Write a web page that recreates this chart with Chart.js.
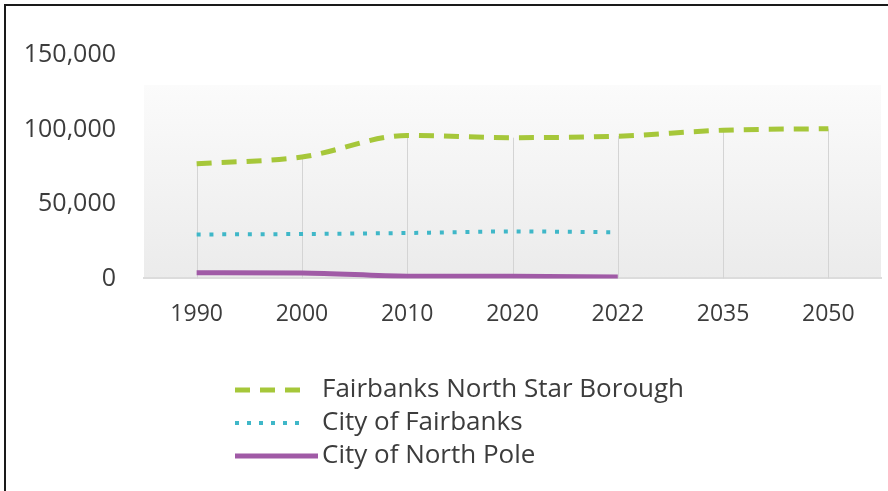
<!DOCTYPE html>
<html>
<head>
<meta charset="utf-8">
<script src="https://cdn.jsdelivr.net/npm/chart.js@4.4.1/dist/chart.umd.min.js"></script>
<style>
  html, body { margin: 0; padding: 0; background: #fff; }
  #wrap { position: relative; width: 888px; height: 491px; overflow: hidden; }
  #frame { position: absolute; left: 4px; top: 4px; width: 900px; height: 500px;
           border-left: 2px solid #1a1a1a; border-top: 2px solid #1a1a1a; pointer-events: none; }
</style>
</head>
<body>
<div id="wrap">
  <canvas id="popChart" width="888" height="491"></canvas>
  <div id="frame"></div>
</div>
<script>
var years = ['1990', '2000', '2010', '2020', '2022', '2035', '2050'];
var borough = [77000, 81500, 96000, 94500, 95500, 99500, 100500];
var cityFairbanks = [29500, 29800, 30500, 31500, 31000, null, null];
var northPole = [3800, 3700, 1500, 1400, 1000, null, null];
var seriesNames = ['Fairbanks North Star Borough', 'City of Fairbanks', 'City of North Pole'];
var yTicks = [0, 50000, 100000, 150000];

var FONT = '"Open Sans", sans-serif';
var TEXT = '#3c3c3c';

// soft grey wash behind the lines
var plotBackground = {
    id: 'plotBackground',
    beforeDraw: function(chart) {
        var a = chart.chartArea, c = chart.ctx;
        var top = a.top + 30;
        var g = c.createLinearGradient(0, top, 0, a.bottom);
        g.addColorStop(0, '#fbfbfb');
        g.addColorStop(1, '#ebebeb');
        c.save();
        c.fillStyle = g;
        c.fillRect(a.left, top, a.right - a.left, a.bottom - top);
        c.restore();
    }
};

// thin drop lines from the borough line down to the axis
var dropLines = {
    id: 'dropLines',
    beforeDatasetsDraw: function(chart) {
        var meta = chart.getDatasetMeta(0), c = chart.ctx;
        var bottom = chart.scales.y.getPixelForValue(0);
        c.save();
        c.strokeStyle = '#d4d4d4';
        c.lineWidth = 1;
        meta.data.forEach(function(pt) {
            var x = Math.round(pt.x) + 0.5;
            c.beginPath();
            c.moveTo(x, pt.y);
            c.lineTo(x, bottom);
            c.stroke();
        });
        c.restore();
    }
};

// stacked legend under the chart
var stackedLegend = {
    id: 'stackedLegend',
    afterDraw: function(chart) {
        var c = chart.ctx;
        var rows = [390, 423, 456];
        var ends = [300, 299, 318];
        c.save();
        chart.data.datasets.forEach(function(ds, i) {
            var y = rows[i];
            c.strokeStyle = ds.borderColor;
            c.lineWidth = ds.borderWidth;
            c.lineCap = 'butt';
            c.setLineDash(ds.legendDash || []);
            c.beginPath();
            c.moveTo(235, y);
            c.lineTo(ends[i], y);
            c.stroke();
            c.setLineDash([]);
            c.fillStyle = TEXT;
            c.font = '26px ' + FONT;
            c.textBaseline = 'middle';
            c.fillText(ds.label, 322, y);
        });
        c.restore();
    }
};

var ctx = document.getElementById('popChart').getContext('2d');
var popChart = new Chart(ctx, {
    type: 'line',
    data: {
        labels: years,
        datasets: [{
            label: seriesNames[0],
            data: borough,
            borderColor: '#a6c73a',
            borderWidth: 5,
            borderDash: [15, 10],
            legendDash: [15, 10],
            cubicInterpolationMode: 'monotone',
            pointRadius: 0
        }, {
            label: seriesNames[1],
            data: cityFairbanks,
            borderColor: '#3fb7c8',
            borderWidth: 4,
            borderDash: [4, 8.8],
            legendDash: [4, 8],
            cubicInterpolationMode: 'monotone',
            pointRadius: 0
        }, {
            label: seriesNames[2],
            data: northPole,
            borderColor: '#a05aa6',
            borderWidth: 5,
            cubicInterpolationMode: 'monotone',
            pointRadius: 0
        }]
    },
    options: {
        responsive: false,
        animation: false,
        layout: { padding: { top: 55, left: 10, right: 7, bottom: 141 } },
        plugins: {
            legend: { display: false },
            tooltip: { enabled: false }
        },
        scales: {
            x: {
                offset: true,
                grid: { display: false, drawTicks: false },
                border: { display: true, color: '#dcdcdc', width: 2 },
                ticks: { color: TEXT, padding: 22, font: { family: FONT, size: 23 } }
            },
            y: {
                min: 0,
                max: 150000,
                afterBuildTicks: function(scale) {
                    scale.ticks = yTicks.map(function(v) { return { value: v }; });
                },
                afterFit: function(scale) { scale.width = 134; },
                grid: { display: false, drawTicks: false },
                border: { display: false },
                ticks: {
                    color: TEXT,
                    padding: 28,
                    font: { family: FONT, size: 25 },
                    callback: function(v) { return v.toLocaleString('en-US'); }
                }
            }
        }
    },
    plugins: [plotBackground, dropLines, stackedLegend]
});
</script>
</body>
</html>
